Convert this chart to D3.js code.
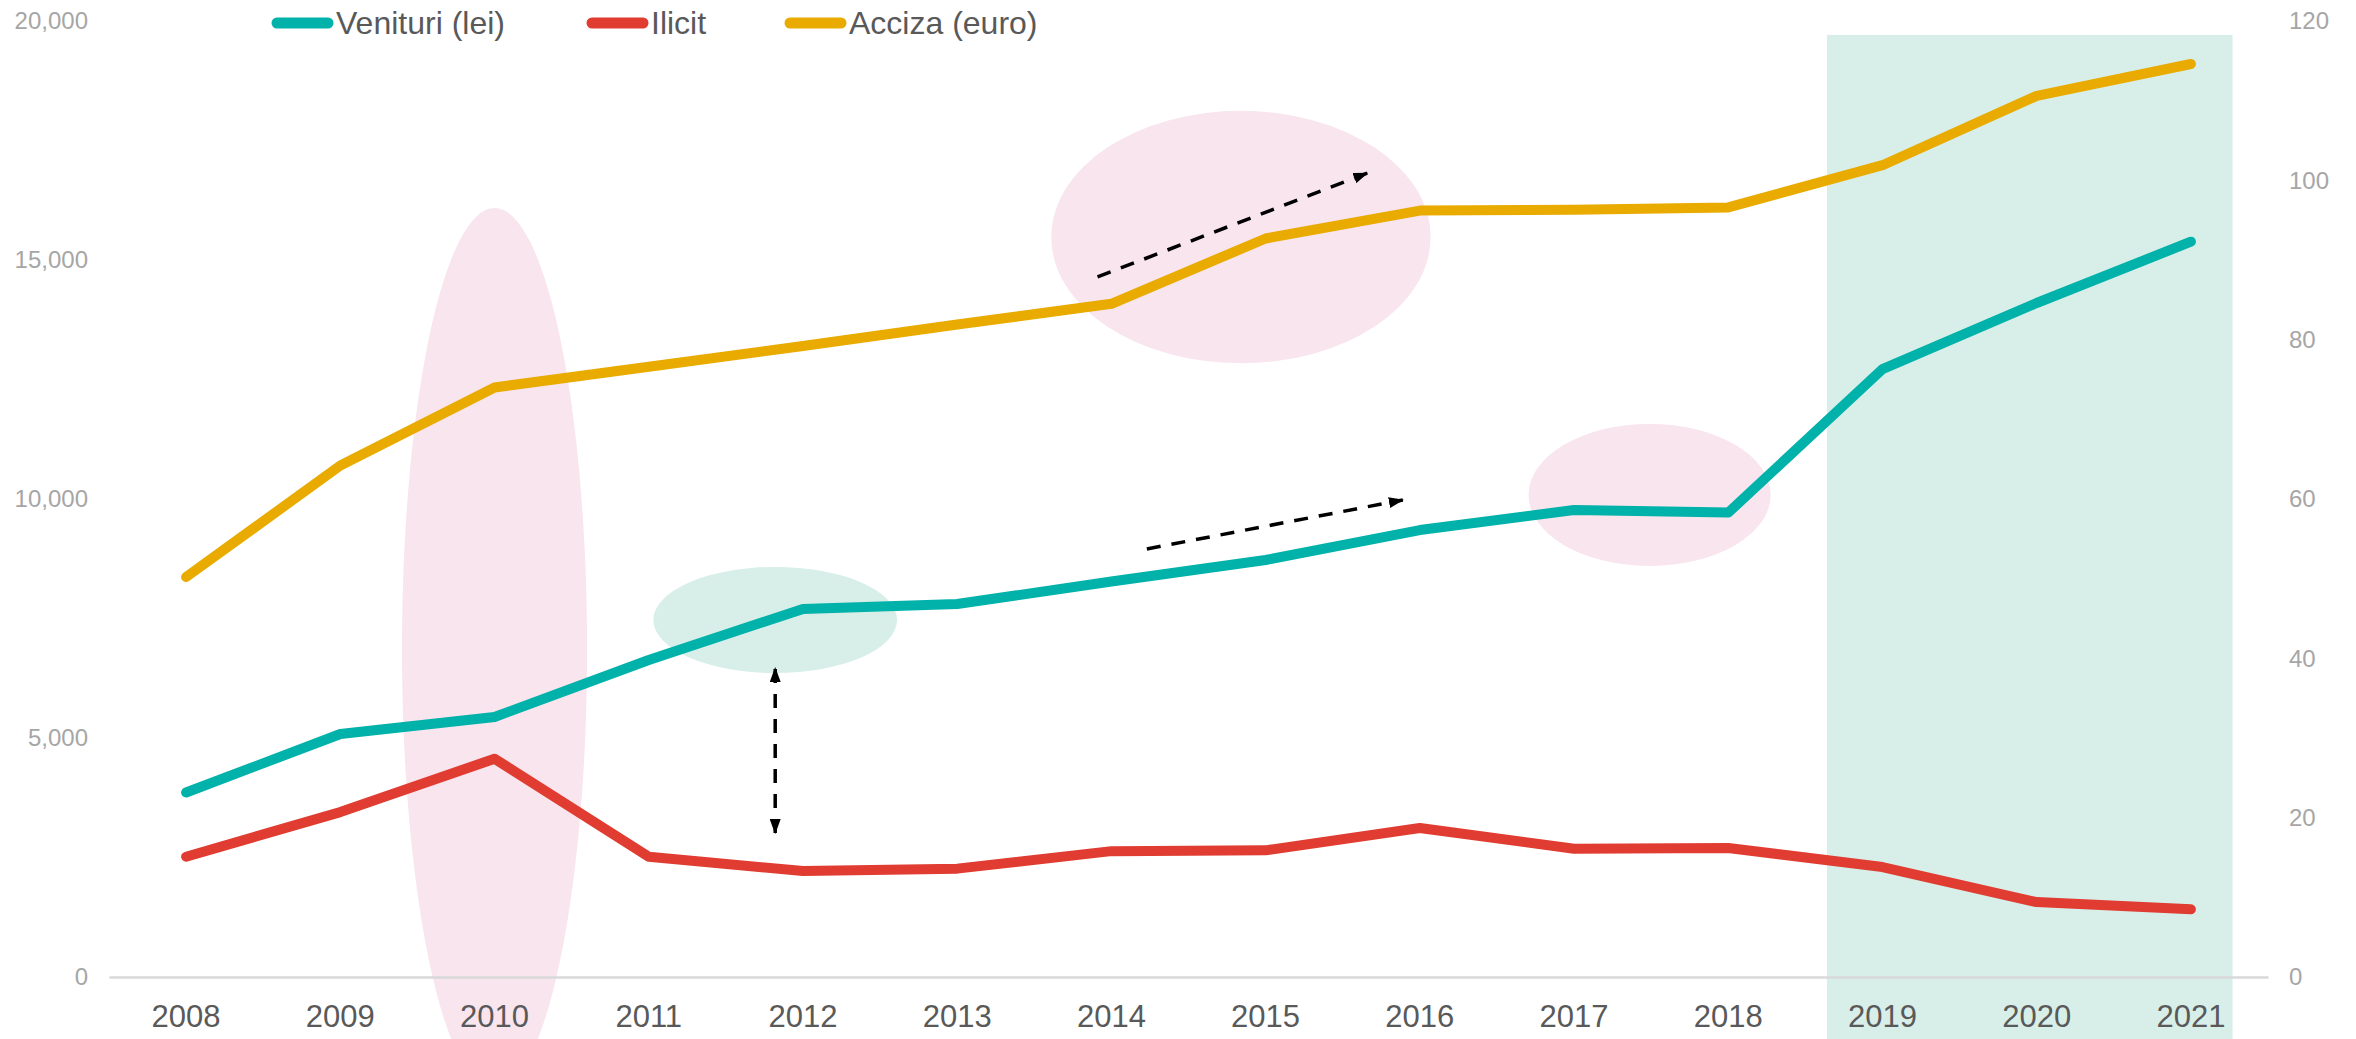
<!DOCTYPE html>
<html>
<head>
<meta charset="utf-8">
<script src="https://cdn.jsdelivr.net/npm/d3@7"></script>
<style>
body { margin: 0; background: #fff; }
svg { display: block; font-family: Arial, "Liberation Sans", sans-serif; }
.axis .domain { stroke: none; }
.x-axis .domain { stroke: #d9d9d9; stroke-width: 2.5px; }
.x-axis text { fill: #595959; font-size: 31px; }
.y-axis text { fill: #a6a6a6; font-size: 24px; }
.legend text { fill: #595959; font-size: 32px; }
</style>
</head>
<body>
<svg width="2356" height="1039"></svg>
<script>

var years = [2008, 2009, 2010, 2011, 2012, 2013, 2014, 2015, 2016, 2017, 2018, 2019, 2020, 2021];
var venituri = [3860, 5084, 5440, 6632, 7700, 7803, 8274, 8724, 9350, 9770, 9715, 12717, 14100, 15383];
var ilicit = [15.1, 20.7, 27.4, 15.1, 13.3, 13.6, 15.8, 15.9, 18.7, 16.1, 16.2, 13.8, 9.4, 8.5];
var acciza = [50.2, 64.2, 74.0, 76.6, 79.2, 81.9, 84.5, 92.7, 96.2, 96.3, 96.6, 101.9, 110.6, 114.6];
var leftTicks = [0, 5000, 10000, 15000, 20000];
var rightTicks = [0, 20, 40, 60, 80, 100, 120];

// highlight shapes, in data units (year, left-axis value)
var ellipses = [
	{cx: 2010.0, cy: 6860, rx: 0.60, ry: 9230, color: "#f8e5ee"},
	{cx: 2011.82, cy: 7470, rx: 0.79, ry: 1110, color: "#d8efe9"},
	{cx: 2014.84, cy: 15480, rx: 1.23, ry: 2640, color: "#f8e5ee"},
	{cx: 2017.49, cy: 10085, rx: 0.785, ry: 1485, color: "#f8e5ee"}
];
var band2019 = {from: 2018.64, to: 2021.27, top: 19710};
var arrows = [
	{x1: 2011.82, y1: 3010, x2: 2011.82, y2: 6465, both: true},
	{x1: 2013.91, y1: 14645, x2: 2015.66, y2: 16820, both: false},
	{x1: 2014.23, y1: 8955, x2: 2015.89, y2: 9980, both: false}
];

var series = [
	{name: "Venituri (lei)", values: venituri, axis: "left", color: "#00b2a9"},
	{name: "Ilicit", values: ilicit, axis: "right", color: "#e03c31"},
	{name: "Acciza (euro)", values: acciza, axis: "right", color: "#e9ab00"}
];

var svg = d3.select("svg"),
	width = +svg.attr("width"),
	height = +svg.attr("height");

var x = d3.scaleBand().domain(years).range([109, 2268]);
var xYear = d3.scaleLinear()
	.domain([2008, 2021])
	.range([x(2008) + x.bandwidth() / 2, x(2021) + x.bandwidth() / 2]);
var yL = d3.scaleLinear().domain([0, 20000]).range([977, 21]);
var yR = d3.scaleLinear().domain([0, 120]).range([977, 21]);

// shaded area 2019-2021
svg.append("rect")
	.attr("x", xYear(band2019.from))
	.attr("y", yL(band2019.top))
	.attr("width", xYear(band2019.to) - xYear(band2019.from))
	.attr("height", height - yL(band2019.top))
	.attr("fill", "#d8efe9");

svg.append("g").selectAll("ellipse")
	.data(ellipses)
	.enter().append("ellipse")
	.attr("cx", function(d) { return xYear(d.cx); })
	.attr("cy", function(d) { return yL(d.cy); })
	.attr("rx", function(d) { return xYear(d.cx + d.rx) - xYear(d.cx); })
	.attr("ry", function(d) { return yL(0) - yL(d.ry); })
	.attr("fill", function(d) { return d.color; });

svg.append("g")
	.attr("class", "axis x-axis")
	.attr("transform", "translate(0," + yL(0) + ")")
	.call(d3.axisBottom(x).tickSize(0).tickSizeOuter(0).tickPadding(28));

svg.append("g")
	.attr("class", "axis y-axis")
	.attr("transform", "translate(109,0)")
	.call(d3.axisLeft(yL).tickValues(leftTicks).tickFormat(d3.format(",")).tickSize(0).tickPadding(21));

svg.append("g")
	.attr("class", "axis y-axis")
	.attr("transform", "translate(2268,0)")
	.call(d3.axisRight(yR).tickValues(rightTicks).tickSize(0).tickPadding(21));

series.forEach(function(s) {
	var y = s.axis === "left" ? yL : yR;
	var line = d3.line()
		.x(function(d, i) { return x(years[i]) + x.bandwidth() / 2; })
		.y(function(d) { return y(d); });
	svg.append("path")
		.datum(s.values)
		.attr("d", line)
		.attr("fill", "none")
		.attr("stroke", s.color)
		.attr("stroke-width", 10)
		.attr("stroke-linecap", "round")
		.attr("stroke-linejoin", "round");
});

// dashed arrows
svg.append("defs").append("marker")
	.attr("id", "head")
	.attr("markerUnits", "userSpaceOnUse")
	.attr("viewBox", "0 0 15 11")
	.attr("refX", 14)
	.attr("refY", 5.5)
	.attr("markerWidth", 15)
	.attr("markerHeight", 11)
	.attr("orient", "auto-start-reverse")
	.append("path")
	.attr("d", "M0,0L15,5.5L0,11Z")
	.attr("fill", "#000");

svg.append("g").selectAll("line")
	.data(arrows)
	.enter().append("line")
	.attr("x1", function(d) { return xYear(d.x1); })
	.attr("y1", function(d) { return yL(d.y1); })
	.attr("x2", function(d) { return xYear(d.x2); })
	.attr("y2", function(d) { return yL(d.y2); })
	.attr("stroke", "#000")
	.attr("stroke-width", 3.5)
	.attr("stroke-dasharray", "14,11")
	.attr("marker-end", "url(#head)")
	.attr("marker-start", function(d) { return d.both ? "url(#head)" : null; });

// legend
var legendX = [272, 587, 785];
var legend = svg.append("g").attr("class", "legend");
series.forEach(function(s, i) {
	var g = legend.append("g").attr("transform", "translate(" + legendX[i] + ",23)");
	g.append("line")
		.attr("x1", 5).attr("x2", 56)
		.attr("stroke", s.color)
		.attr("stroke-width", 11)
		.attr("stroke-linecap", "round");
	g.append("text")
		.attr("x", 64)
		.attr("y", 11)
		.text(s.name);
});
</script>
</body>
</html>
